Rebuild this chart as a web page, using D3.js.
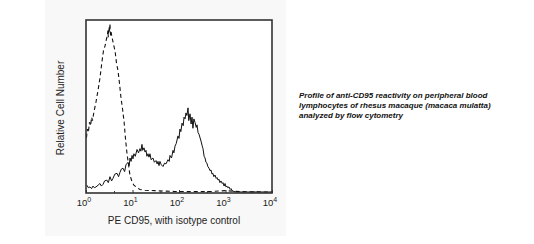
<!DOCTYPE html>
<html>
<head>
<meta charset="utf-8">
<script src="https://cdn.jsdelivr.net/npm/d3@7"></script>
<style>
  body { margin: 0; background: #fff; }
  svg { display: block; font-family: Arial, "Liberation Sans", sans-serif; }
</style>
</head>
<body>
<script>
// log10(fluorescence) positions and relative counts (0..100)
let isoLog = [0.01, 0.03, 0.05, 0.075, 0.10, 0.12, 0.14, 0.17, 0.215, 0.26, 0.30, 0.345, 0.375, 0.41, 0.44, 0.46, 0.47, 0.48,
    0.495, 0.505, 0.515, 0.53, 0.54, 0.56, 0.59, 0.625, 0.655, 0.69, 0.72, 0.75, 0.785, 0.82, 0.85, 0.88, 0.915, 0.945, 0.99,
    1.03, 1.10, 1.16, 1.27, 1.48, 1.70, 1.91, 2.3, 2.7, 3.0, 3.2, 3.5, 4.0];
let isoCount = [32, 37, 35, 41, 39, 44, 42, 47, 53, 60, 67, 77, 83, 86, 90, 92, 95, 91,
    97, 94, 99, 92, 94, 91, 87, 83, 76, 71, 64, 56, 49, 41, 31, 23, 16, 10, 6,
    4, 2.5, 1.5, 1, 0.8, 0.5, 0.3, 0.2, 0.3, 0.8, 0.4, 0.1, 0];

let cd95Log = [0.02, 0.05, 0.086, 0.12, 0.15, 0.18, 0.215, 0.26, 0.30, 0.33, 0.366, 0.40, 0.45, 0.48, 0.516, 0.55, 0.58, 0.62,
    0.667, 0.70, 0.73, 0.76, 0.796, 0.83, 0.86, 0.903, 0.93, 0.946, 0.97, 0.99, 1.01, 1.03, 1.06, 1.097, 1.13, 1.16, 1.18,
    1.204, 1.22, 1.247, 1.27, 1.29, 1.31, 1.333, 1.355, 1.376, 1.40, 1.44, 1.47, 1.505, 1.53, 1.548, 1.57, 1.59, 1.62, 1.656,
    1.69, 1.72, 1.763, 1.79, 1.806, 1.84, 1.871, 1.89, 1.914, 1.94, 1.978, 2.0, 2.02, 2.04, 2.065, 2.09, 2.108, 2.13, 2.15,
    2.17, 2.194, 2.21, 2.237, 2.26, 2.28, 2.30, 2.32, 2.344, 2.37, 2.387, 2.41, 2.43, 2.473, 2.50, 2.516, 2.54, 2.56, 2.58,
    2.60, 2.62, 2.645, 2.668, 2.688, 2.71, 2.73, 2.75, 2.774, 2.80, 2.817, 2.84, 2.86, 2.88, 2.903, 2.93, 2.946, 2.97, 2.99,
    3.01, 3.03, 3.05, 3.075, 3.10, 3.118, 3.14, 3.16, 3.226, 4.0];
let cd95Count = [4, 2.5, 3, 2, 3.5, 2.5, 3, 4, 5, 3.5, 4.5, 6.5, 7, 5.5, 9, 6.5, 8, 10.5,
    11, 9, 11.5, 13.5, 14, 12, 16, 17.5, 15.5, 20, 18, 21.5, 19.5, 22.5, 21, 25, 23, 25.5, 24,
    28, 24.5, 26, 23.5, 24.5, 21, 22.5, 20.5, 22.5, 19, 20, 17.5, 18.5, 16.5, 18, 15.5, 18, 16, 15,
    17, 16.5, 19, 18, 21.5, 20, 24.5, 23, 27, 28.5, 33, 31.5, 37, 35.5, 40.5, 39, 44, 43, 46.5,
    45, 49.5, 42, 46, 40, 44, 37.5, 43, 41, 38, 39.5, 35, 34, 30, 27, 25.5, 21, 20, 17.5,
    17, 15, 14, 12.5, 13, 10.5, 11, 9, 10, 8, 8.5, 7, 7.5, 5.5, 6.5, 5, 5.5, 3.5, 5,
    3, 3.5, 2.5, 3, 1.5, 2, 1, 0.5, 0, 0];

let tickExps = [0, 1, 2, 3, 4];
let minorTicks = [4, 40, 400, 4000];
let xTitle = "PE CD95, with isotype control";
let yTitle = "Relative Cell Number";
let caption = ["Profile of anti-CD95 reactivity on peripheral blood",
    "lymphocytes of rhesus macaque (macaca mulatta)",
    "analyzed by flow cytometry"];

let width = 534, height = 244;
let plot = { left: 86, right: 272, top: 20, bottom: 193 };

let svg = d3.select("body").append("svg")
    .attr("width", width)
    .attr("height", height);

// faint grey panel behind the histogram
svg.append("rect")
    .attr("x", 45).attr("y", 0)
    .attr("width", 241).attr("height", 236)
    .attr("fill", "#f8f8f8");

let x = d3.scaleLog().domain([1, 10000]).range([plot.left, plot.right]);
let y = d3.scaleLinear().domain([0, 100]).range([plot.bottom - 1, plot.top + 2]);

svg.append("rect")
    .attr("x", plot.left).attr("y", plot.top)
    .attr("width", plot.right - plot.left)
    .attr("height", plot.bottom - plot.top)
    .attr("fill", "#fff");

let line = d3.line()
    .x(d => x(Math.pow(10, d[0])))
    .y(d => y(d[1]));

svg.append("path")
    .datum(d3.zip(isoLog, isoCount))
    .attr("d", line)
    .attr("fill", "none")
    .attr("stroke", "#111")
    .attr("stroke-width", 1.1)
    .attr("stroke-dasharray", "4,3");

svg.append("path")
    .datum(d3.zip(cd95Log, cd95Count))
    .attr("d", line)
    .attr("fill", "none")
    .attr("stroke", "#111")
    .attr("stroke-width", 1);

// ticks pointing inward from the bottom edge
let xAxis = svg.append("g")
    .attr("transform", `translate(0, ${plot.bottom})`)
    .call(d3.axisBottom(x).tickValues(tickExps.map(e => Math.pow(10, e))).tickSize(-3).tickFormat(""));
xAxis.select(".domain").remove();
xAxis.selectAll("line").attr("stroke", "#333");
svg.append("g")
    .attr("transform", `translate(0, ${plot.bottom})`)
    .call(d3.axisBottom(x).tickValues(minorTicks).tickSize(-2).tickFormat(""))
    .call(g => g.select(".domain").remove())
    .selectAll("line").attr("stroke", "#333");

// frame
svg.append("rect")
    .attr("x", plot.left).attr("y", plot.top)
    .attr("width", plot.right - plot.left)
    .attr("height", plot.bottom - plot.top)
    .attr("fill", "none")
    .attr("stroke", "#333")
    .attr("stroke-width", 1.6);

// tick labels 10^n
let lbl = svg.selectAll("text.tick")
    .data(tickExps)
    .enter()
    .append("text")
    .attr("class", "tick")
    .attr("x", d => x(Math.pow(10, d)) - 2)
    .attr("y", 206)
    .attr("text-anchor", "middle")
    .attr("font-size", 9.5)
    .attr("fill", "#222");
lbl.append("tspan").text("10");
lbl.append("tspan")
    .attr("dy", -4)
    .attr("font-size", 7)
    .text(d => d);

svg.append("text")
    .attr("x", 174).attr("y", 224)
    .attr("text-anchor", "middle")
    .attr("font-size", 10)
    .attr("fill", "#222")
    .text(xTitle);

svg.append("text")
    .attr("transform", "translate(64, 108) rotate(-90)")
    .attr("text-anchor", "middle")
    .attr("font-size", 10)
    .attr("fill", "#222")
    .text(yTitle);

svg.selectAll("text.caption")
    .data(caption)
    .enter()
    .append("text")
    .attr("class", "caption")
    .attr("x", 299)
    .attr("y", (d, i) => 98 + i * 10)
    .attr("font-size", 8)
    .attr("font-weight", "bold")
    .attr("font-style", "italic")
    .attr("fill", "#111")
    .text(d => d);
</script>
</body>
</html>
